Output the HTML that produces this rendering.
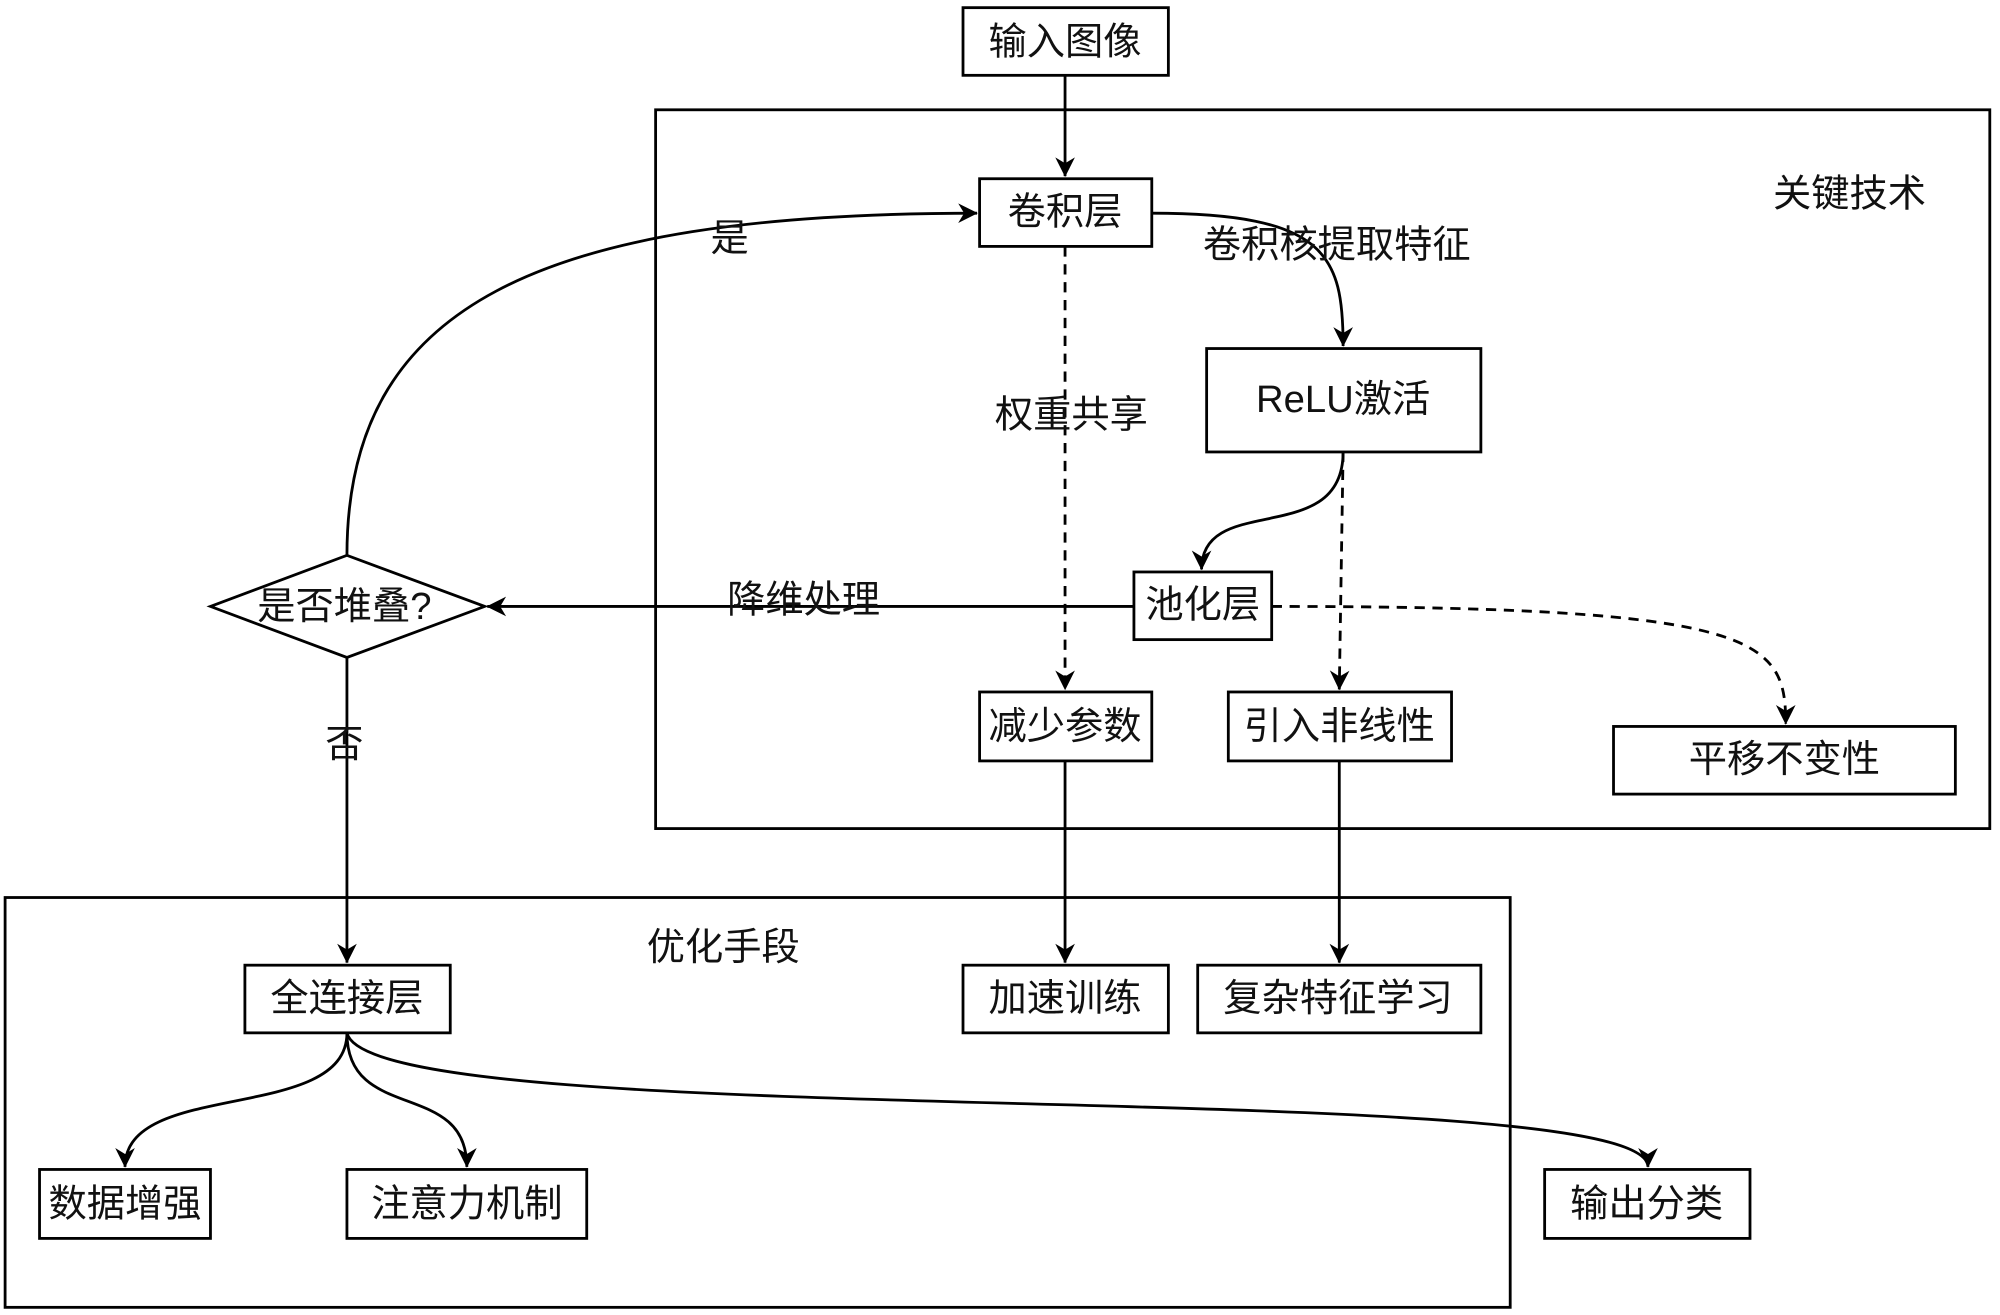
<!DOCTYPE html>
<html><head><meta charset="utf-8"><style>
html,body{margin:0;padding:0;background:#fff;}
svg{display:block;}
text{font-family:"Liberation Sans","Noto Sans CJK SC",sans-serif;font-size:30px;fill:#111;}
</style></head><body>
<svg width="2000" height="1315" viewBox="0 0 1568 1030" preserveAspectRatio="none" xmlns="http://www.w3.org/2000/svg">
<defs>
<marker id="a" viewBox="0 0 10 10" refX="9" refY="5" markerWidth="7" markerHeight="7" orient="auto" markerUnits="userSpaceOnUse" style="overflow:visible">
<path d="M0,0 L10,5 L0,10 L3,5 Z" fill="#000" transform="scale(2.2) translate(-5.5,-2.75)"/>
</marker>
</defs>
<g fill="none" stroke="#000" stroke-width="2.2">
<rect x="514" y="86" width="1046" height="563"/>
<rect x="4" y="703" width="1180" height="321"/>
<rect x="755" y="6" width="161" height="53"/>
<rect x="768" y="140" width="135" height="53"/>
<rect x="946" y="273" width="215" height="81"/>
<rect x="889" y="448" width="108" height="53"/>
<rect x="768" y="542" width="135" height="54"/>
<rect x="963" y="542" width="175" height="54"/>
<rect x="1265" y="569" width="268" height="53"/>
<polygon points="165,475 272,435 380,475 272,515"/>
<rect x="192" y="756" width="161" height="53"/>
<rect x="755" y="756" width="161" height="53"/>
<rect x="939" y="756" width="222" height="53"/>
<rect x="31" y="916" width="134" height="54"/>
<rect x="272" y="916" width="188" height="54"/>
<rect x="1211" y="916" width="161" height="54"/>

<path d="M835,59 L835,138" marker-end="url(#a)"/>
<path d="M903,167 C1040,167 1053,200 1053,271" marker-end="url(#a)"/>
<path d="M835,193 L835,540" stroke-dasharray="8,6" marker-end="url(#a)"/>
<path d="M1053,354 C1053,430 942,385 942,446" marker-end="url(#a)"/>
<path d="M1053,354 L1050,540" stroke-dasharray="8,6" marker-end="url(#a)"/>
<path d="M889,475 L382,475" marker-end="url(#a)"/>
<path d="M997,475 C1380,475 1400,500 1400,567" stroke-dasharray="8,6" marker-end="url(#a)"/>
<path d="M272,435 C272,240 420,167 766,167" marker-end="url(#a)"/>
<path d="M272,515 L272,754" marker-end="url(#a)"/>
<path d="M835,596 L835,754" marker-end="url(#a)"/>
<path d="M1050,596 L1050,754" marker-end="url(#a)"/>
<path d="M272,809 C272,880 98,845 98,914" marker-end="url(#a)"/>
<path d="M272,809 C272,880 366,845 366,914" marker-end="url(#a)"/>
<path d="M272,809 C290,890 1292,840 1292,914" marker-end="url(#a)"/>
</g>
<g text-anchor="middle" dominant-baseline="central">
<text x="835" y="33">输入图像</text>
<text x="1450" y="152">关键技术</text>
<text x="835" y="166">卷积层</text>
<text x="1053" y="313">ReLU激活</text>
<text x="943" y="474">池化层</text>
<text x="835" y="569">减少参数</text>
<text x="1050" y="569">引入非线性</text>
<text x="1399" y="595">平移不变性</text>
<text x="270" y="475">是否堆叠?</text>
<text x="567" y="742">优化手段</text>
<text x="272" y="782">全连接层</text>
<text x="835" y="782">加速训练</text>
<text x="1049" y="782">复杂特征学习</text>
<text x="98" y="943">数据增强</text>
<text x="366" y="943">注意力机制</text>
<text x="1291" y="943">输出分类</text>
<text x="1048" y="192">卷积核提取特征</text>
<text x="840" y="325">权重共享</text>
<text x="630" y="470">降维处理</text>
<text x="572" y="187">是</text>
<text x="270" y="583">否</text>
</g>
</svg>
</body></html>
